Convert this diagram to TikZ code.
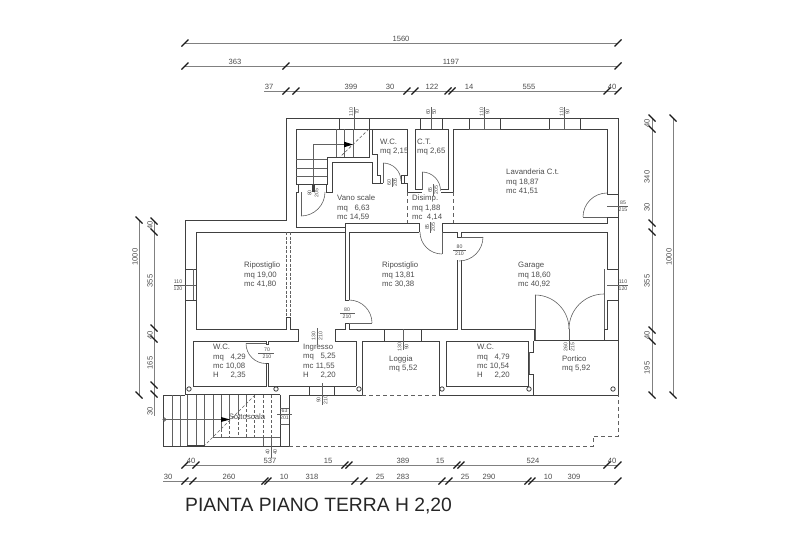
\documentclass[tikz,border=0pt]{standalone}
\usepackage{fontspec}
\setmainfont{Liberation Sans}
\definecolor{wallc}{gray}{0.25}
\definecolor{thinc}{gray}{0.38}
\definecolor{textc}{gray}{0.3}
\definecolor{dimc}{gray}{0.5}
\tikzset{
  wall/.style={draw=wallc,line width=1pt,line join=miter},
  thin line/.style={draw=thinc,line width=0.6pt},
  stairl/.style={draw=thinc,line width=0.6pt},
  dash line/.style={draw=thinc,line width=0.8pt,dash pattern=on 4pt off 3pt},
  stair dash/.style={draw=thinc,line width=0.6pt,dash pattern=on 3pt off 2pt},
  dimline/.style={draw=dimc,line width=0.95pt},
  tick/.style={draw=black!90,line width=1.2pt},
  room/.style={font=\fontsize{7.8}{9.4}\selectfont,text=textc,align=left,anchor=west,inner sep=0pt},
  dimt/.style={font=\fontsize{7.6}{9}\selectfont,text=textc,inner sep=0pt},
  mini/.style={font=\fontsize{5.2}{5.2}\selectfont,text=textc,inner sep=0pt},
  title/.style={font=\fontsize{19.3}{21}\selectfont,text=black!85,anchor=west,inner sep=0pt}
}
\newcommand{\htick}[2]{\draw[tick] (#1-3.5,#2+3.5) -- (#1+3.5,#2-3.5);}
\newcommand{\vtick}[2]{\draw[tick] (#1-3.5,#2-3.5) -- (#1+3.5,#2+3.5);}
\begin{document}
\begin{tikzpicture}[x=1pt,y=-1pt]
\useasboundingbox (0,0) rectangle (800,558);
% ---------- top dimensions
\draw[dimline] (185,43) -- (618,43);
\foreach \x in {185,618} {\htick{\x}{43}}
\node[dimt] (t1560) at (401,39) {1560};
\draw[dimline] (185,66) -- (618,66);
\foreach \x in {185,286,618} {\htick{\x}{66}}
\node[dimt] (t363) at (235,62) {363};
\node[dimt] (t1197) at (451,62) {1197};
\draw[dimline] (264,91) -- (618,91);
\foreach \x in {286,296,407,415,448,452,607,618} {\htick{\x}{91}}
\node[dimt] (t37) at (269,87) {37};
\node[dimt] (t399) at (351,87) {399};
\node[dimt] (t30a) at (390,87) {30};
\node[dimt] (t122) at (432,87) {122};
\node[dimt] (t14) at (469,87) {14};
\node[dimt] (t555) at (529,87) {555};
\node[dimt] (t40a) at (612,87) {40};
% ---------- left dimensions
\draw[dimline] (139,220) -- (139,395);
\foreach \y in {220,395} {\vtick{139}{\y}}
\node[dimt,rotate=90] (l1000) at (135,257) {1000};
\draw[dimline] (154,221) -- (154,416);
\foreach \y in {221,232,328,339,385,394} {\vtick{154}{\y}}
\node[dimt,rotate=90] (l40a) at (150,225) {40};
\node[dimt,rotate=90] (l355) at (150,281) {355};
\node[dimt,rotate=90] (l40b) at (150,335) {40};
\node[dimt,rotate=90] (l165) at (150,363) {165};
\node[dimt,rotate=90] (l30) at (150,411) {30};
% ---------- right dimensions
\draw[dimline] (652,118) -- (652,395);
\foreach \y in {118,129,223,232,330,341,395} {\vtick{652}{\y}}
\node[dimt,rotate=90] (r40a) at (647,123) {40};
\node[dimt,rotate=90] (r340) at (647,177) {340};
\node[dimt,rotate=90] (r30) at (647,207) {30};
\node[dimt,rotate=90] (r355) at (647,281) {355};
\node[dimt,rotate=90] (r40b) at (647,335) {40};
\node[dimt,rotate=90] (r195) at (647,368) {195};
\draw[dimline] (673,118) -- (673,395);
\foreach \y in {118,395} {\vtick{673}{\y}}
\node[dimt,rotate=90] (r1000) at (669,257) {1000};
% ---------- bottom dimensions
\draw[dimline] (185,465) -- (618,465);
\foreach \x in {185,196,345,349,457,461,607,618} {\htick{\x}{465}}
\node[dimt] (b40a) at (191,461) {40};
\node[dimt] (b537) at (270,461) {537};
\node[dimt] (b15a) at (328,461) {15};
\node[dimt] (b389) at (403,461) {389};
\node[dimt] (b15b) at (440,461) {15};
\node[dimt] (b524) at (533,461) {524};
\node[dimt] (b40b) at (612,461) {40};
\draw[dimline] (163,481) -- (618,481);
\foreach \x in {185,193,265,268,355,364,442,449,528,532,618} {\htick{\x}{481}}
\node[dimt] (c30) at (168,477) {30};
\node[dimt] (c260) at (229,477) {260};
\node[dimt] (c10a) at (284,477) {10};
\node[dimt] (c318) at (312,477) {318};
\node[dimt] (c25a) at (380,477) {25};
\node[dimt] (c283) at (403,477) {283};
\node[dimt] (c25b) at (465,477) {25};
\node[dimt] (c290) at (489,477) {290};
\node[dimt] (c10b) at (548,477) {10};
\node[dimt] (c309) at (574,477) {309};
% ---------- outer walls
\draw[wall] (185,394.5) -- (185,220.5) -- (286,220.5) -- (286,118) -- (618,118) -- (618,395) -- (439,395);
\draw[wall] (185,394.5) -- (280,394.5);
\draw[wall] (289,395) -- (362,395);
\draw[dash line] (362,395) -- (439,395);
% top windows
\draw[wall] (339,118) -- (339,129) (369,118) -- (369,129);
\draw[wall] (420,118) -- (420,129) (442,118) -- (442,129);
\draw[wall] (469,118) -- (469,129) (500,118) -- (500,129);
\draw[wall] (549,118) -- (549,129) (580,118) -- (580,129);
\draw[thin line] (469,129) -- (500,129) (549,129) -- (580,129);
% stair room
\draw[wall] (296,184) -- (296,129) -- (369,129) -- (369,157) -- (327,157) -- (327,184) -- (296,184);
\draw[wall] (298,184) -- (298,192) -- (296,192) -- (296,227) -- (345,227) -- (345,223) -- (419,223) -- (419,232);
\draw[wall] (326,184) -- (326,192) -- (332,192) -- (332,162) -- (372,162) -- (372,183) -- (383,183);
% WC upper
\draw[wall] (369,129) -- (372,129) -- (372,154) -- (377,154) -- (377,175) -- (380,175) -- (380,183);
\draw[wall] (372,129) -- (407,129) -- (407,175) -- (404,175) -- (404,183) -- (401,183) -- (401,175) -- (404,175);
\draw[wall] (404,183) -- (407,183) -- (407,192) -- (422,192);
% CT
\draw[wall] (422,189) -- (415,189) -- (415,129) -- (448,129) -- (448,189) -- (441,189);
\draw[wall] (441,192) -- (453,192) -- (453,129) -- (469,129) (500,129) -- (549,129) (580,129) -- (607,129) -- (607,194) -- (618,194);
\draw[wall] (618,217) -- (607,217) -- (607,223) -- (442,223) -- (442,232);
% dashes Disimp
\draw[dash line] (407,192) -- (407,223);
\draw[dash line] (453,192) -- (453,223);
% middle band
\draw[wall] (345,227) -- (345,300) -- (349,300);
\draw[wall] (196,232) -- (345,232);
\draw[wall] (349,300) -- (349,232) -- (419,232);
\draw[wall] (442,232) -- (457,232) -- (457,237) -- (461,237) -- (461,232) -- (607,232) -- (607,269) -- (618,269);
\draw[wall] (618,300) -- (607,300) -- (607,329) -- (604,329) -- (604,340) -- (618,340);
\draw[wall] (534,340) -- (604,340);
\draw[thin line] (604,269) -- (604,300);
\draw[wall] (457,260) -- (457,329) -- (349,329) -- (349,323) -- (345,323) -- (345,329) -- (335,329) -- (335,341) -- (356,341) -- (356,386);
\draw[wall] (461,260) -- (461,329) -- (534,329) -- (534,340);
\draw[wall] (196,232) -- (196,329) -- (286,329) -- (286,317) -- (290,317) -- (290,329) -- (298,329) -- (298,341) -- (268,341) -- (268,344) -- (266,344) -- (266,341) -- (193,341) -- (193,386) -- (266,386) -- (266,363) -- (268,363) -- (268,386) -- (356,386);
\draw[wall] (185,269) -- (196,269) (185,300) -- (196,300);
\draw[thin line] (193,269) -- (193,300);
\draw[stair dash,dash pattern=on 3pt off 1.5pt] (286,232) -- (286,317) (290,232) -- (290,317);
% ingresso window / bottom
\draw[wall] (309,386) -- (309,395) (334,386) -- (334,395);
\draw[wall] (362,395) -- (362,341) -- (421,341) (421,329) -- (421,341) -- (439,341) -- (439,395);
\draw[wall] (384,329) -- (384,341);
% WC east
\draw[wall] (446,341) rectangle (528,386);
\draw[wall] (533,341) -- (533,352) -- (529,352) (529,374) -- (533,374) -- (533,395);
\draw[thin line] (529,352) -- (529,374);
% columns
\foreach \x in {189,276,359,442,529,613} {
  \draw[wall,line width=0.8pt] (\x,389) circle (2.2pt);
}
% ---------- doors
\draw[thin line] (301,192) -- (301,216);
\draw[thin line] (325,192) arc[start angle=0,end angle=-90,radius=24pt];
\draw[thin line] (383,163) -- (383,183);
\draw[thin line] (383,163) arc[start angle=90,end angle=0,radius=18pt];
\draw[thin line] (422,172) -- (422,190);
\draw[thin line] (422,172) arc[start angle=90,end angle=0,radius=18.5pt];
\draw[thin line] (442,232) -- (442,254);
\draw[thin line] (420,232) arc[start angle=180,end angle=270,radius=22pt];
\draw[thin line] (461,237) -- (483,237);
\draw[thin line] (483,237) arc[start angle=0,end angle=-90,radius=24pt];
\draw[thin line] (349,323) -- (372,323);
\draw[thin line] (349,300) arc[start angle=90,end angle=0,radius=23pt];
\draw[thin line] (246,343.5) -- (266,343.5);
\draw[thin line] (246,343.5) arc[start angle=180,end angle=270,radius=20pt];
\draw[thin line] (583,217) -- (607,217);
\draw[thin line] (607,193) arc[start angle=90,end angle=180,radius=24pt];
\draw[thin line] (535,295) -- (535,340);
\draw[thin line] (535,295) arc[start angle=90,end angle=0,radius=34pt];
\draw[thin line] (604,295) -- (604,329);
\draw[thin line] (604,294) arc[start angle=90,end angle=180,radius=35pt];
% ---------- upper stairs
\foreach \x in {336,344,353} {\draw[stairl] (\x,129) -- (\x,157);}
\foreach \y in {159,168,176} {\draw[stairl] (296,\y) -- (327,\y);}
\draw[stair dash] (369,129) -- (340,157);
\draw[stairl] (313,192) -- (313,144.5) -- (346,144.5);
\fill[black] (344,141.7) -- (353,144.5) -- (344,147.3) -- cycle;
\fill[wallc] (311.5,184) rectangle (314.5,192);
% ---------- outside stairs
\draw[wall] (163,395) -- (163,446) -- (289,446);
\draw[wall] (163,395) -- (185,395);
\draw[wall] (280,394.5) -- (280,446);
\draw[wall] (289,395) -- (289,446);
\foreach \x in {172,180,187,196,204} {\draw[stairl] (\x,395) -- (\x,446);}
\foreach \x in {213,221,229,238,246} {
  \pgfmathsetmacro{\yd}{650-\x}
  \draw[stairl] (\x,395) -- (\x,\yd);
  \draw[stair dash] (\x,\yd) -- (\x,437);
}
\foreach \x in {254,263,271} {\draw[stair dash] (\x,395) -- (\x,437);}
\draw[stair dash] (255,395) -- (205,445);
\draw[stairl] (213,437) -- (280,437);
\draw[stairl] (263,437) -- (263,446);
\draw[stairl] (271,437) -- (271,458);
\draw[wall,line width=1.5pt] (187,445.5) -- (205,445.5);
\draw[stairl] (163,419.5) -- (222,419.5);
\fill[black] (221,417) -- (230,419.5) -- (221,422) -- cycle;
\draw[stairl] (164.5,419.5) circle (1.6pt);
\draw[thin line] (280,408) -- (289,408) (280,424) -- (289,424);
\draw[thin line] (277,414) -- (292,414);
% dashed outline of the yard
\draw[dash line] (289,446) -- (593,446) -- (593,436) -- (618,436) -- (618,395);
% ---------- small labels with leader lines
\draw[thin line] (354,107) -- (354,129);
\node[mini,rotate=90] (w1a) at (351,112) {110};
\node[mini,rotate=90] (w1b) at (357,112) {70};
\draw[thin line] (431,107) -- (431,129);
\node[mini,rotate=90] (w2a) at (428,112) {60};
\node[mini,rotate=90] (w2b) at (434,112) {50};
\draw[thin line] (484.5,107) -- (484.5,129);
\node[mini,rotate=90] (w3a) at (481.5,112) {110};
\node[mini,rotate=90] (w3b) at (487.5,112) {90};
\draw[thin line] (564.5,107) -- (564.5,129);
\node[mini,rotate=90] (w4a) at (561.5,112) {110};
\node[mini,rotate=90] (w4b) at (567.5,112) {90};
\draw[thin line] (607,206) -- (628,206);
\node[mini] (d1a) at (623,203) {85};
\node[mini] (d1b) at (623,209.5) {215};
\draw[thin line] (174,285) -- (196,285);
\node[mini] (w5a) at (178,281.5) {110};
\node[mini] (w5b) at (178,288.5) {120};
\draw[thin line] (607,285) -- (628,285);
\node[mini] (w6a) at (623,281.5) {110};
\node[mini] (w6b) at (623,288.5) {120};
\draw[thin line] (453,250) -- (466,250);
\node[mini] (d2a) at (459.5,246.5) {80};
\node[mini] (d2b) at (459.5,253.5) {210};
\draw[thin line] (340,313) -- (355,313);
\node[mini] (d3a) at (347,309.5) {80};
\node[mini] (d3b) at (347,316.5) {210};
\draw[thin line] (258,353) -- (274,353);
\node[mini] (d4a) at (267,349.5) {70};
\node[mini] (d4b) at (267,356.5) {210};
\draw[thin line] (317,328) -- (317,345);
\node[mini,rotate=90] (d5a) at (313.5,336) {130};
\node[mini,rotate=90] (d5b) at (320.5,336) {210};
\draw[thin line] (322,383) -- (322,405);
\node[mini,rotate=90] (d6a) at (318.5,400) {90};
\node[mini,rotate=90] (d6b) at (325.5,400) {210};
\draw[thin line] (403,329) -- (403,350);
\node[mini,rotate=90] (w7a) at (399.5,347) {130};
\node[mini,rotate=90] (w7b) at (406.5,347) {90};
\draw[thin line] (569,329) -- (569,350);
\node[mini,rotate=90] (d7a) at (565.5,347) {260};
\node[mini,rotate=90] (d7b) at (572.5,347) {215};
\draw[thin line] (392,178) -- (392,187);
\node[mini,rotate=90] (d8a) at (389,182.5) {60};
\node[mini,rotate=90] (d8b) at (395,182.5) {205};
\draw[thin line] (433,184) -- (433,196);
\node[mini,rotate=90] (d9a) at (430,190) {65};
\node[mini,rotate=90] (d9b) at (436,190) {205};
\draw[thin line] (430,222) -- (430,233);
\node[mini,rotate=90] (d10a) at (427,227) {85};
\node[mini,rotate=90] (d10b) at (433,227) {205};
\node[mini,rotate=90] (d11a) at (309.5,193) {80};
\node[mini,rotate=90] (d11b) at (316.5,193) {205};
\node[mini] (w8a) at (284.5,410.5) {63};
\node[mini] (w8b) at (284.5,418) {201};
\node[mini,rotate=90] (w9a) at (267.5,452) {40};
\node[mini,rotate=90] (w9b) at (275,452) {40};
% ---------- rooms
\node[room] (rvano) at (337,208) {Vano scale\\mq\ \ \ 6,63\\mc 14,59};
\node[room] (rwca) at (380,147) {W.C.\\mq 2,15};
\node[room] (rct) at (417,147) {C.T.\\mq 2,65};
\node[room] (rdis) at (412,208) {Disimp.\\mq 1,88\\mc\ \ 4,14};
\node[room] (rlav) at (506,182) {Lavanderia C.t.\\mq 18,87\\mc 41,51};
\node[room] (rrip) at (244,275) {Ripostiglio\\mq 19,00\\mc 41,80};
\node[room] (rripb) at (382,275) {Ripostiglio\\mq 13,81\\mc 30,38};
\node[room] (rgar) at (518,275) {Garage\\mq 18,60\\mc 40,92};
\node[room] (rwcb) at (213,361.5) {W.C.\\mq\ \ \ 4,29\\mc 10,08\\H\hspace{1.5em}2,35};
\node[room] (ring) at (303,361.5) {Ingresso\\mq\ \ \ 5,25\\mc 11,55\\H\hspace{1.5em}2,20};
\node[room] (rlog) at (389,364) {Loggia\\mq 5,52};
\node[room] (rwcc) at (477,361.5) {W.C.\\mq\ \ \ 4,79\\mc 10,54\\H\hspace{1.5em}2,20};
\node[room] (rpor) at (562,364) {Portico\\mq 5,92};
\node[room,anchor=center] (rsot) at (247,416.5) {Sottoscala};
\node[title] (ttl) at (185,506) {PIANTA PIANO TERRA H 2,20};
\end{tikzpicture}
\end{document}
